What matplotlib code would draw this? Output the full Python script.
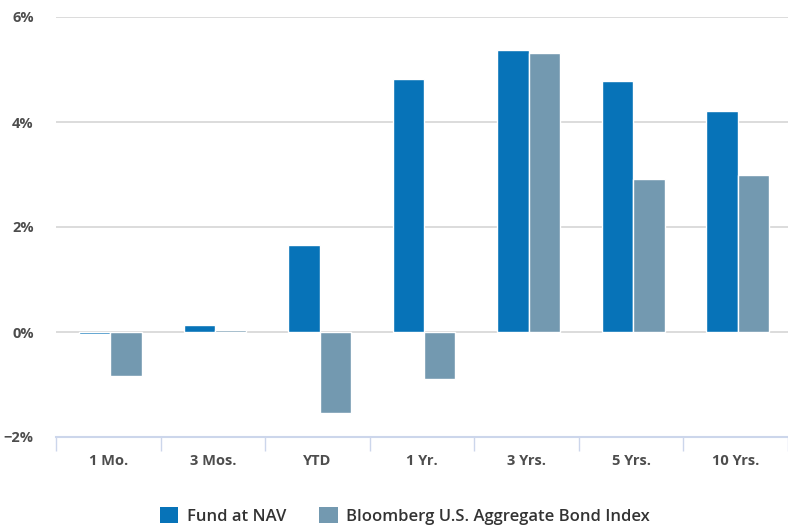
import matplotlib
matplotlib.use("Agg")
import matplotlib.pyplot as plt
from matplotlib.patches import Patch
import numpy as np

plt.rcParams['font.family'] = ['Open Sans', 'DejaVu Sans']

categories = ['1 Mo.', '3 Mos.', 'YTD', '1 Yr.', '3 Yrs.', '5 Yrs.', '10 Yrs.']
fund = [-0.04, 0.14, 1.66, 4.82, 5.37, 4.78, 4.21]
index = [-0.84, 0.04, -1.55, -0.90, 5.32, 2.91, 2.99]
yticks = [-2, 0, 2, 4, 6]

fund_color = '#0773b8'
index_color = '#7399b0'
grid_color = '#d6d6d6'
axis_color = '#ccd6eb'
text_color = '#4d4d4d'

fig = plt.figure(figsize=(7.88, 5.29), dpi=100)
ax = fig.add_axes([56/788, 1 - 437/529, 1 - 56/788, (437 - 17)/529])

x = np.arange(len(categories))
w = 0.3
shift = 0.02
ax.bar(x - w/2 + shift, fund, w, color=fund_color, edgecolor='white', linewidth=1, zorder=3)
ax.bar(x + w/2 + shift, index, w, color=index_color, edgecolor='white', linewidth=1, zorder=3)

ax.set_xlim(-0.5, len(categories) - 0.5)
ax.set_ylim(-2, 6)
ax.set_yticks(yticks)
ax.set_yticklabels(['\u22122%' if t < 0 else f'{t}%' for t in yticks])
for t in yticks[1:]:
    ax.axhline(t, color=grid_color, linewidth=1.2, zorder=1)

ax.set_xticks(x)
ax.set_xticklabels(categories)
ax.set_xticks(np.arange(-0.5, len(categories)), minor=True)
ax.tick_params(axis='x', which='major', length=0, pad=12, labelsize=10.5, labelcolor=text_color)
ax.tick_params(axis='x', which='minor', length=10, color=axis_color, width=1, direction='out')
ax.tick_params(axis='y', length=0, pad=16, labelsize=10.5, labelcolor=text_color)
for lbl in ax.get_xticklabels() + ax.get_yticklabels():
    lbl.set_fontweight('bold')

for s in ['top', 'right', 'left']:
    ax.spines[s].set_visible(False)
ax.spines['bottom'].set_color(axis_color)
ax.spines['bottom'].set_linewidth(1.5)

handles = [Patch(facecolor=fund_color, label='Fund at NAV'),
           Patch(facecolor=index_color, label='Bloomberg U.S. Aggregate Bond Index')]
leg = fig.legend(handles=handles, loc='center', bbox_to_anchor=(405/788, 1 - 516/529), ncol=2,
                 frameon=False, handlelength=1.1, handleheight=1.1, handletextpad=0.5,
                 columnspacing=2.0, prop={'size': 12, 'weight': 'semibold'})
for t in leg.get_texts():
    t.set_color('#333333')

fig.savefig('out.png', dpi=100)
